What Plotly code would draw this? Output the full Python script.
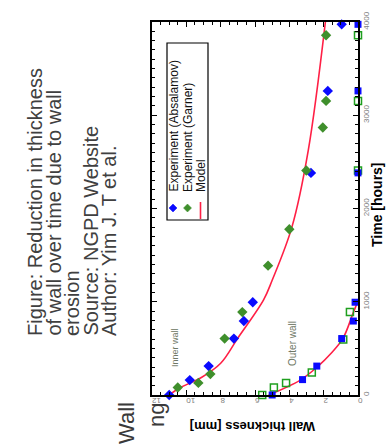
import plotly.graph_objects as go

# ---------------- data (thickness in mm, time in hours) ----------------
abd_inner_time = [0, 160, 310, 605, 793, 995, 2382, 3261, 3975]
abd_inner_thick = [11.0, 9.8, 8.7, 7.23, 6.65, 6.13, 2.74, 1.76, 0.95]

gar_inner_time = [80, 130, 224, 605, 889, 1387, 1778, 2407, 2869, 3154, 3858]
gar_inner_thick = [10.5, 9.3, 8.6, 7.77, 6.74, 5.24, 4.0, 3.01, 2.05, 1.86, 1.86]

abd_outer_time = [0, 165, 310, 605, 793, 995, 2382, 3261, 3975]
abd_outer_thick = [5.0, 3.23, 2.4, 0.95, 0.27, 0.17, 0.0, 0.0, 0.0]

gar_outer_time = [0, 80, 130, 240, 594, 889, 2407, 3154, 3858]
gar_outer_thick = [5.58, 4.9, 4.19, 2.69, 0.86, 0.47, 0.0, 0.0, 0.0]

model_inner_time = [0, 75, 190, 340, 610, 1020, 1230, 1800, 2620, 4000]
model_inner_thick = [11.0, 10.4, 9.1, 8.0, 7.0, 5.5, 5.0, 3.85, 2.9, 1.9]

model_outer_time = [0, 160, 300, 450, 610, 875, 1010]
model_outer_thick = [5.2, 3.36, 2.38, 1.55, 0.87, 0.29, 0.0]

thick_ticks = [12, 10, 8, 6, 4, 2, 0]
time_ticks = [0, 1000, 2000, 3000, 4000]

caption_lines = [
    "Figure: Reduction in thickness",
    "of wall over time due to wall",
    "erosion",
    "Source: NGPD Website",
    "Author: Yim J. T et al.",
]
legend_labels = ["Experiment (Absalamov)", "Experiment (Garner)", "Model"]

# ---------------- styling / layout helpers ----------------
FW, FH = 392, 444
L, R, T, B = 152, 358, 22, 395
PW, PH = R - L, B - T
FONT = "Liberation Sans, Arial, sans-serif"
BLUE = "#0a0aff"
GREEN = "#3f8f2c"
GREEN_SQ = "#1f9f1f"
RED = "#ff1f45"


def px(x):
    return (x - L) / PW


def py(y):
    return (B - y) / PH


fig = go.Figure()

fig.add_trace(go.Scatter(x=model_inner_thick, y=model_inner_time, mode="lines",
                         line=dict(color=RED, width=1.6, shape="spline"),
                         showlegend=False, cliponaxis=True))
fig.add_trace(go.Scatter(x=model_outer_thick, y=model_outer_time, mode="lines",
                         line=dict(color=RED, width=1.6, shape="spline"),
                         showlegend=False, cliponaxis=True))

fig.add_trace(go.Scatter(x=gar_outer_thick, y=gar_outer_time, mode="markers",
                         marker=dict(symbol="square-open", size=7, color=GREEN_SQ,
                                     line=dict(width=1.5, color=GREEN_SQ)),
                         showlegend=False, cliponaxis=False))
fig.add_trace(go.Scatter(x=abd_outer_thick, y=abd_outer_time, mode="markers",
                         marker=dict(symbol="square", size=7, color=BLUE),
                         showlegend=False, cliponaxis=False))
fig.add_trace(go.Scatter(x=abd_inner_thick, y=abd_inner_time, mode="markers",
                         marker=dict(symbol="diamond", size=8, color=BLUE),
                         showlegend=False, cliponaxis=False))
fig.add_trace(go.Scatter(x=gar_inner_thick, y=gar_inner_time, mode="markers",
                         marker=dict(symbol="diamond", size=8, color=GREEN),
                         showlegend=False, cliponaxis=False))

axis_common = dict(showline=True, linecolor="black", linewidth=1.5, mirror="allticks",
                   ticks="inside", ticklen=5, tickwidth=1, tickcolor="black",
                   showgrid=False, zeroline=False,
                   tickfont=dict(family=FONT, size=8, color="#808080"))

fig.update_xaxes(range=[12, 0], tickvals=thick_ticks, ticktext=[str(v) for v in thick_ticks],
                 tickangle=180,
                 minor=dict(dtick=0.5, ticks="inside", ticklen=3, tickcolor="black"),
                 **axis_common)
fig.update_yaxes(range=[0, 4000], side="right", tickvals=time_ticks,
                 ticktext=[str(v) for v in time_ticks], tickangle=-90,
                 minor=dict(dtick=100, ticks="inside", ticklen=3, tickcolor="black"),
                 **axis_common)

ann = []
cap_x = [35, 53.5, 72, 90.5, 109]
for line, cx in zip(caption_lines, cap_x):
    ann.append(dict(text=line, x=px(cx), y=py(338), xref="paper", yref="paper",
                    xanchor="center", yanchor="bottom", textangle=-90, showarrow=False,
                    font=dict(family=FONT, size=20, color="#404040")))
ann.append(dict(text="Wall", x=px(126), y=py(400), xref="paper", yref="paper",
                xanchor="center", yanchor="top", textangle=-90, showarrow=False,
                font=dict(family=FONT, size=22, color="#3a3a3a")))
ann.append(dict(text="ng", x=px(156), y=py(401), xref="paper", yref="paper",
                xanchor="center", yanchor="top", textangle=-90, showarrow=False,
                font=dict(family=FONT, size=22, color="#3a3a3a")))
ann.append(dict(text="<b>Time [hours]</b>", x=px(377), y=py(205), xref="paper", yref="paper",
                xanchor="center", yanchor="middle", textangle=-90, showarrow=False,
                font=dict(family=FONT, size=14, color="black")))
ann.append(dict(text="<b>Wall thickness [mm]</b>", x=px(253), y=py(427), xref="paper",
                yref="paper", xanchor="center", yanchor="middle", textangle=180,
                showarrow=False, font=dict(family=FONT, size=13, color="black")))
ann.append(dict(text="Inner wall", x=px(175), y=py(348), xref="paper", yref="paper",
                xanchor="center", yanchor="middle", textangle=-90, showarrow=False,
                font=dict(family=FONT, size=9, color="#6f7866")))
ann.append(dict(text="Outer wall", x=px(292), y=py(344), xref="paper", yref="paper",
                xanchor="center", yanchor="middle", textangle=-90, showarrow=False,
                font=dict(family=FONT, size=10, color="#6f7866")))
leg_x = [173, 187.5, 200.5]
for lab, lx in zip(legend_labels, leg_x):
    ann.append(dict(text=lab, x=px(lx), y=py(194), xref="paper", yref="paper",
                    xanchor="center", yanchor="bottom", textangle=-90, showarrow=False,
                    font=dict(family=FONT, size=12, color="#111111")))

shapes = []
shapes.append(dict(type="rect", xref="paper", yref="paper", x0=px(167), x1=px(208),
                   y0=py(220), y1=py(43), line=dict(color="black", width=1.2),
                   fillcolor="rgba(0,0,0,0)"))


def diamond(cx, cy, r, color):
    path = (f"M {px(cx)},{py(cy - r)} L {px(cx + r)},{py(cy)} "
            f"L {px(cx)},{py(cy + r)} L {px(cx - r)},{py(cy)} Z")
    return dict(type="path", xref="paper", yref="paper", path=path,
                fillcolor=color, line=dict(color=color, width=0.5))


shapes.append(diamond(173, 208, 4, BLUE))
shapes.append(diamond(187.5, 208, 4, GREEN))
shapes.append(dict(type="line", xref="paper", yref="paper", x0=px(200.5), x1=px(200.5),
                   y0=py(202), y1=py(219), line=dict(color=RED, width=1.6)))

fig.update_layout(width=FW, height=FH, autosize=False,
                  margin=dict(l=L, r=FW - R, t=T, b=FH - B, pad=0),
                  paper_bgcolor="white", plot_bgcolor="white",
                  showlegend=False, annotations=ann, shapes=shapes)

fig.write_html("out.html")
